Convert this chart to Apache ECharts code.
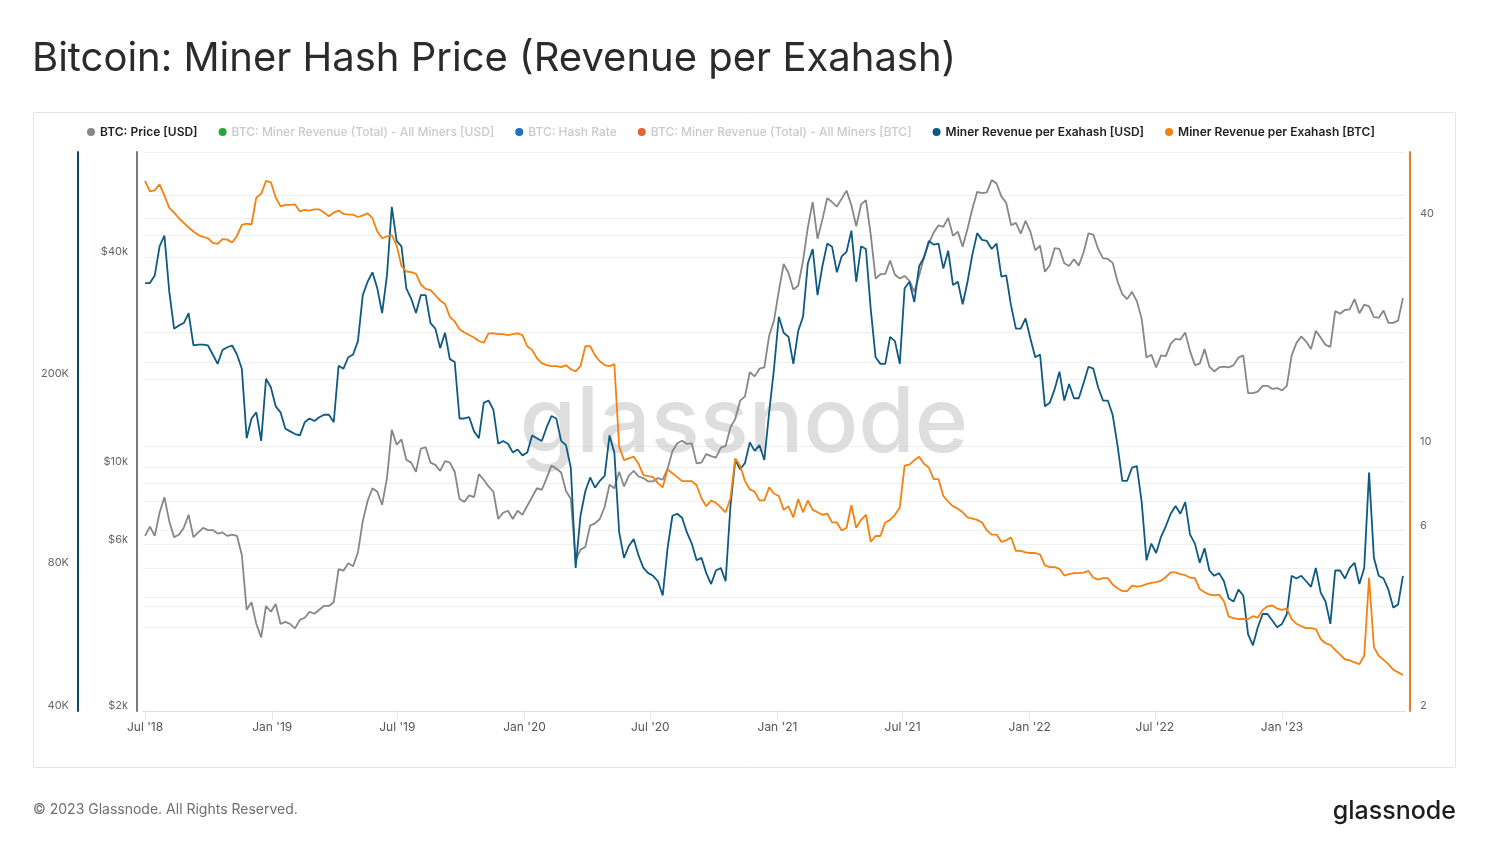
<!DOCTYPE html>
<html>
<head>
<meta charset="utf-8">
<script src="https://cdn.jsdelivr.net/npm/echarts@6/dist/echarts.min.js"></script>
<style>
html,body{margin:0;padding:0;background:#ffffff;}
#chart{width:1488px;height:857px;}
</style>
</head>
<body>
<div id="chart"></div>
<script>
// Weekly samples, first sample on 2018-07-01, one every 7 days
const firstSample = [2018, 6, 1];
const sampleStepDays = 7;

// BTC: Price [USD]
const price = [
6350,6750,6350,7400,8200,7000,6300,6400,6700,7300,
6300,6500,6700,6600,6600,6450,6500,6350,6400,6350,
5600,3900,4100,3550,3250,4000,3850,4050,3550,3600,
3550,3450,3650,3700,3850,3800,3900,4000,4000,4100,
5100,5050,5300,5200,5700,7000,8000,8700,8500,7800,
9300,12800,11600,12000,10500,10300,9700,11300,11400,10300,
10150,9750,10400,10300,9700,8100,7950,8300,8200,9550,
9200,8800,8500,7100,7400,7500,7100,7500,7300,7750,
8200,8700,8600,9300,10100,9900,9650,8550,8100,5400,
5800,5900,6800,6900,7100,7700,8900,8700,9700,8800,
9450,9750,9400,9300,9100,9100,9300,9200,9900,11100,
11700,11900,11650,11700,10250,10300,10900,10750,10650,11350,
11500,13000,13750,15500,15950,18700,18200,19150,19300,23800,
26300,32000,38200,36000,32300,33100,39000,48700,57500,45100,
51200,59000,57500,55800,58800,62000,56300,49000,56600,58200,
46400,34700,35700,35800,39100,35600,34700,35300,34200,31800,
35400,39900,43800,47000,49300,48800,51800,46000,47300,42800,
48200,55000,61500,61000,61300,66500,65000,59700,57200,49400,
50100,46700,50800,47300,41800,43100,36300,37900,42400,42200,
38400,37700,39400,37800,41300,46800,46400,42200,39700,39500,
38500,34100,31300,30300,31800,29900,26600,20600,21000,19300,
20900,20800,22600,23300,23200,24300,21500,19600,19800,21800,
19400,18800,19300,19400,19300,19600,20600,20900,16300,16300,
16450,17100,17100,16750,16850,16600,17100,20900,22700,23700,
22900,21800,24600,23500,22400,22100,28000,27500,28200,28300,
30300,27600,29200,28900,26900,26800,28100,25900,25900,26300,30500
];

// Miner Revenue per Exahash [USD]
const revUsd = [
318000,318000,330000,380000,400000,305000,255000,259000,262000,275000,
235000,236000,236000,235000,225000,215000,230000,233000,235000,225000,
210000,150000,165000,170000,148000,200000,192000,175000,170000,157000,
155000,153000,152000,162000,165000,163000,166000,168000,168000,162000,
213000,210000,222000,225000,240000,300000,320000,335000,310000,275000,
330000,460000,390000,380000,310000,295000,275000,300000,300000,262000,
255000,232000,250000,220000,217000,165000,165000,166000,155000,150000,
178000,180000,172000,146000,148000,146000,140000,142000,138000,140000,
152000,150000,148000,158000,167000,165000,148000,145000,130000,80000,
103000,116000,124000,118000,122000,125000,152000,140000,95000,84000,
89000,92000,85000,80000,78000,77000,75000,70000,88000,103000,
104000,102000,95000,90000,83000,84000,78000,74000,79000,80000,
75000,108000,135000,129000,133000,147000,141000,145000,135000,170000,
210000,270000,250000,245000,215000,252000,270000,350000,375000,300000,
345000,385000,379000,335000,362000,370000,410000,320000,380000,375000,
280000,222000,215000,215000,245000,240000,215000,310000,320000,290000,
345000,360000,390000,383000,385000,341000,372000,315000,320000,287000,
320000,365000,405000,392000,390000,375000,385000,328000,330000,285000,
255000,255000,268000,243000,222000,225000,175000,178000,190000,207000,
180000,195000,182000,182000,196000,212000,210000,192000,180000,180000,
168000,145000,122000,122000,130000,131000,110000,83000,90000,86000,
93000,98000,104000,108000,104000,110000,94000,90000,82000,88000,
79000,77000,78000,75000,69000,68000,72000,70000,58000,55000,
60000,64000,64000,62000,60000,61000,64000,77000,76000,77000,
75000,73000,80000,71000,68000,61000,79000,79000,76000,80000,
82000,74000,80000,127000,84000,77000,76000,72000,66000,67000,77000
];

// Miner Revenue per Exahash [BTC]
const revBtc = [
50.3,47.2,47.5,49.3,46,42.7,41.5,40.1,39,37.9,
37,36.2,35.8,35.5,34.5,34.3,35.3,35.2,34.6,36,
38.5,38.8,38.6,45.5,46.5,50.3,49.9,45.5,43.1,43.5,
43.5,43.6,41.8,42.2,42,42.3,42.3,41.5,40.6,41.5,
42,41.2,41,41,40.4,40.8,41.3,40.1,37,35.5,
35.9,36.2,34,30,29,28.9,28.6,26.8,26.1,25.9,
25.1,24.3,23.8,22,21.4,20.4,20,19.7,19.4,19,
18.8,19.9,19.9,19.8,19.8,19.7,19.8,19.9,19.7,18.4,
18,17.1,16.6,16.4,16.3,16.3,16.2,16.4,16,15.8,
16.3,18.4,18.4,17.4,16.8,16.4,16.3,16.5,10,9.2,
9.3,9.4,9,8.4,8.35,8.3,8,7.8,8.7,8.5,
8.3,8.1,8.1,8.1,7.9,7.3,6.95,7.2,7.1,6.9,
6.7,7.3,9.3,8.9,8.1,7.7,7.6,7.2,7.2,7.8,
7.5,7.4,6.8,6.95,6.5,7.26,6.7,7.2,6.8,6.7,
6.6,6.65,6.3,6.3,6,6.1,7,6.1,6.4,6.6,
5.6,5.8,5.8,6.3,6.4,6.6,6.9,8.9,8.95,9.2,
9.4,9,8.8,8.2,8.2,7.4,7.15,6.95,6.85,6.7,
6.5,6.45,6.4,6.3,6,5.85,5.85,5.6,5.65,5.75,
5.3,5.3,5.25,5.23,5.23,5.18,4.85,4.8,4.8,4.75,
4.56,4.6,4.63,4.63,4.64,4.69,4.5,4.45,4.49,4.49,
4.32,4.22,4.15,4.15,4.29,4.26,4.28,4.33,4.36,4.38,
4.42,4.52,4.65,4.65,4.6,4.57,4.5,4.49,4.2,4.12,
4.06,4.04,4.06,3.9,3.55,3.52,3.5,3.5,3.5,3.56,
3.53,3.7,3.78,3.8,3.73,3.7,3.73,3.5,3.4,3.35,
3.31,3.31,3.29,3.1,3.02,2.99,2.9,2.82,2.74,2.72,
2.69,2.66,2.8,4.5,2.95,2.8,2.73,2.66,2.57,2.53,2.49
];

// Axis ticks / labels
const xRange = ['2018-06-28','2023-06-28'];
const xTickSpacingDays = [180, 186];
const usdTicks = [40000, 60000, 80000, 200000, 400000, 600000];
const usdLabels = [40000, 80000, 200000];
const priceTicks = [2000, 4000, 6000, 8000, 10000, 20000, 40000, 60000];
const priceLabels = [2000, 6000, 10000, 40000];
const btcTicks = [2, 4, 6, 8, 10, 20, 40];
const btcLabels = [2, 6, 10, 40];

const legendNames = [
  'BTC: Price [USD]',
  'BTC: Miner Revenue (Total) - All Miners [USD]',
  'BTC: Hash Rate',
  'BTC: Miner Revenue (Total) - All Miners [BTC]',
  'Miner Revenue per Exahash [USD]',
  'Miner Revenue per Exahash [BTC]'
];

function toTs(s){ const p = s.split('-').map(Number); return new Date(p[0], p[1]-1, p[2]).getTime(); }
const DAY = 86400000;
const dates = price.map((_, i) => new Date(firstSample[0], firstSample[1], firstSample[2] + i * sampleStepDays).getTime());
const MONTHS = ['Jan','Feb','Mar','Apr','May','Jun','Jul','Aug','Sep','Oct','Nov','Dec'];
function fmtDate(v){ const d = new Date(v); return MONTHS[d.getMonth()] + " '" + String(d.getFullYear()).slice(2); }

const FONT = 'Inter, "Noto Sans", sans-serif';
const gridLine = { show: true, lineStyle: { color: '#efefef', width: 1 } };
const labelBase = { color: '#666', fontSize: 11, fontFamily: FONT, verticalAlign: 'bottom', lineHeight: 10 };

const chart = echarts.init(document.getElementById('chart'), null, { renderer: 'canvas' });

chart.setOption({
  animation: false,
  backgroundColor: '#ffffff',
  grid: { left: 143, right: 83, top: 152, bottom: 146 },
  legend: {
    left: 87, top: 126, padding: 0, icon: 'circle', itemWidth: 8, itemHeight: 8, itemGap: 21,
    selectedMode: false,
    textStyle: { fontSize: 12, fontWeight: 600, color: '#1f1f1f', fontFamily: FONT },
    data: [
      { name: legendNames[0] },
      { name: legendNames[1], textStyle: { color: '#cacaca', fontWeight: 500 } },
      { name: legendNames[2], textStyle: { color: '#cacaca', fontWeight: 500 } },
      { name: legendNames[3], textStyle: { color: '#cacaca', fontWeight: 500 } },
      { name: legendNames[4] },
      { name: legendNames[5] }
    ]
  },
  xAxis: {
    type: 'time', min: toTs(xRange[0]), max: toTs(xRange[1]),
    minInterval: xTickSpacingDays[0] * DAY, maxInterval: xTickSpacingDays[1] * DAY,
    axisLine: { show: true, onZero: false, lineStyle: { color: '#dedede', width: 1 } },
    axisTick: { show: true, length: 9, lineStyle: { color: '#e8e8e8' } },
    axisLabel: { formatter: fmtDate, color: '#555', fontSize: 12, fontFamily: FONT, margin: 10, hideOverlap: false },
    splitLine: { show: false }
  },
  yAxis: [
    {
      type: 'log', min: usdTicks[0], max: usdTicks[usdTicks.length-1], position: 'left', offset: 65,
      axisLine: { show: true, onZero: false, lineStyle: { color: '#0d4a6a', width: 2 } },
      axisTick: { show: false, customValues: usdTicks },
      axisLabel: Object.assign({ customValues: usdLabels, margin: 9, formatter: v => Math.round(v/1000) + 'K' }, labelBase),
      splitLine: gridLine
    },
    {
      type: 'log', min: priceTicks[0], max: 80000, position: 'left', offset: 6,
      axisLine: { show: true, onZero: false, lineStyle: { color: '#7a7a7a', width: 2 } },
      axisTick: { show: false, customValues: priceTicks },
      axisLabel: Object.assign({ customValues: priceLabels, margin: 9, formatter: v => '$' + Math.round(v/1000) + 'k' }, labelBase),
      splitLine: gridLine
    },
    {
      type: 'log', min: btcTicks[0], max: 60, position: 'right', offset: 5,
      axisLine: { show: true, onZero: false, lineStyle: { color: '#ef7d1f', width: 2 } },
      axisTick: { show: false, customValues: btcTicks },
      axisLabel: Object.assign({ customValues: btcLabels, margin: 10, formatter: v => String(v) }, labelBase),
      splitLine: gridLine
    }
  ],
  series: [
    { name: legendNames[0], type: 'line', yAxisIndex: 1, showSymbol: false, color: '#878787',
      lineStyle: { width: 1.8, color: '#878787' }, data: dates.map((d, i) => [d, price[i]]) },
    { name: legendNames[1], type: 'line', yAxisIndex: 0, color: '#25a83a', data: [] },
    { name: legendNames[2], type: 'line', yAxisIndex: 0, color: '#1c72c0', data: [] },
    { name: legendNames[3], type: 'line', yAxisIndex: 2, color: '#e2662b', data: [] },
    { name: legendNames[4], type: 'line', yAxisIndex: 0, showSymbol: false, color: '#0e5a80',
      lineStyle: { width: 1.8, color: '#0e5a80' }, data: dates.map((d, i) => [d, revUsd[i]]) },
    { name: legendNames[5], type: 'line', yAxisIndex: 2, showSymbol: false, color: '#f5810f',
      lineStyle: { width: 1.8, color: '#f5810f' }, data: dates.map((d, i) => [d, revBtc[i]]) }
  ],
  graphic: [
    { type: 'rect', z: 0, silent: true, shape: { x: 33.5, y: 112.5, width: 1422, height: 655 },
      style: { fill: 'none', stroke: '#e6e6e6', lineWidth: 1 } },
    { type: 'text', z: 1, silent: true, x: 744, y: 425,
      style: { text: 'glassnode', font: '500 91px ' + FONT, fill: 'rgba(200,200,200,0.6)', align: 'center', verticalAlign: 'middle' } },
    { type: 'text', z: 5, silent: true, x: 32, y: 59,
      style: { text: 'Bitcoin: Miner Hash Price (Revenue per Exahash)', font: '400 40px ' + FONT, fill: '#2b2b2b', align: 'left', verticalAlign: 'middle' } },
    { type: 'text', z: 5, silent: true, x: 33, y: 810,
      style: { text: '\u00a9 2023 Glassnode. All Rights Reserved.', font: '400 14px ' + FONT, fill: '#6e6e6e', align: 'left', verticalAlign: 'middle' } },
    { type: 'text', z: 5, silent: true, x: 1456, y: 811,
      style: { text: 'glassnode', font: '500 25px ' + FONT, fill: '#1d1d1d', align: 'right', verticalAlign: 'middle' } }
  ]
});
</script>
</body>
</html>
